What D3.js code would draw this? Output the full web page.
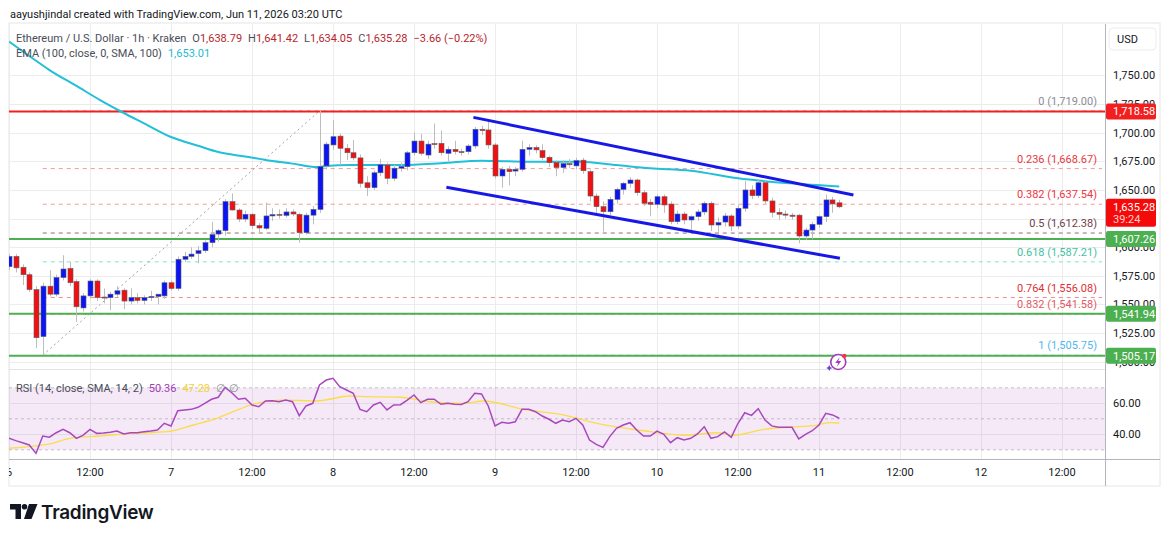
<!DOCTYPE html>
<html>
<head>
<meta charset="utf-8">
<script src="https://cdn.jsdelivr.net/npm/d3@7"></script>
<style>
  body { margin: 0; background: #fff; }
  svg { display: block; font-family: Roboto, "Liberation Sans", sans-serif; }
</style>
</head>
<body>
<svg id="chart" width="1170" height="539"></svg>
<script>
// ETH/USD 1h, Kraken - bars start Jun 6 2026 00:00 UTC, one per hour
const startTime = Date.UTC(2026, 5, 6, 0)
const opens = [1583,1592,1582.5,1576,1563,1522,1566,1559,1573.5,1581.5,1570,1547,1557.5,1570.5,1556.5,1556,1559,1562.5,1553,1556,1553.5,1556,1557,1557.5,1569,1564,1589.5,1592,1594.5,1597,1604,1611.5,1614.5,1639.8,1632.5,1624.6,1628.7,1618.8,1616.5,1627.3,1628.7,1627.8,1630.8,1628.7,1612.7,1628,1633,1671,1689.3,1697,1686.4,1682.5,1678,1656.3,1652,1665,1671.8,1660.2,1669,1670.3,1682.5,1692.7,1680.5,1690.5,1690.7,1682,1685.5,1683.5,1683.4,1688.4,1703,1702.4,1689.3,1662.2,1668,1666.5,1668,1685.5,1687,1684.4,1678.5,1674,1669.6,1673,1671,1676,1666,1644.7,1635.4,1631,1641.8,1650.5,1655.8,1658.7,1647.6,1639.3,1637.5,1644.1,1637.7,1622.3,1629,1623.8,1626.7,1630.8,1638.4,1619.4,1622,1627.3,1618.5,1634,1650,1645,1656.3,1640.4,1630.5,1629,1628,1628,1609.8,1615,1620,1626.7,1641.3,1638.79]
const highs = [1594,1594,1585,1578,1566,1569,1580,1576,1593,1587,1572,1560,1572,1572,1564,1561,1566,1564,1564,1560,1558,1562,1559,1571,1571,1592,1596,1600,1601,1606,1622,1616,1642,1647,1634,1632,1630,1621,1639,1634,1633,1634,1633,1630,1630,1636,1719,1692,1711,1699,1690,1693.6,1681,1662,1667,1677,1674,1672,1674,1684,1700,1699,1693,1708,1702,1688,1693,1686,1690,1705,1706,1711,1691,1670,1671,1670,1693,1690,1689,1690,1680,1676,1676,1677,1678,1678,1668,1647,1640,1644,1652,1657,1661,1660,1650,1642,1646,1646,1640,1632,1631,1628,1633,1640,1640,1626,1630,1629,1637,1658,1654,1659.3,1658,1643,1634,1632,1630,1629,1617,1622,1628,1646,1644,1641.42]
const lows = [1580,1578,1567,1561,1512,1505.75,1557,1557,1571,1566,1535,1544,1555,1553,1551,1545,1556,1546,1550,1551,1550,1553,1550,1555,1562,1562,1587,1590,1586,1595,1600,1605,1610,1632,1622,1622,1616,1612,1615,1623,1625,1626,1627,1604,1611,1620,1630,1668,1685,1672,1676,1676,1652,1644.7,1650,1662,1655,1658,1666,1667,1680,1680,1677,1686,1680,1675,1681,1680,1681,1686,1698,1686,1660,1652,1654,1662,1666,1680,1682,1676,1670,1662,1665,1669,1668,1664,1640,1630,1613.6,1628,1638,1646,1652,1645,1636,1627,1634,1630,1620,1620,1620,1615,1623,1628,1614,1610,1618,1614,1616,1631,1642,1643,1638,1626,1624,1625,1624,1603.4,1606,1607,1617,1622,1630,1634.05]
const closes = [1592,1582,1576,1563,1521,1566,1559,1573.5,1581,1569,1548,1557.5,1570.5,1556,1556,1559,1562,1553,1556,1553.5,1556,1557,1559,1569,1564,1589.5,1592,1594,1597,1604,1611,1614.5,1639.8,1632.5,1624.6,1628.7,1618.8,1616.8,1627.3,1628.5,1628,1630.8,1629,1612.7,1628,1633,1670.3,1690,1696.5,1686.4,1682.5,1678,1655.8,1652,1665,1672,1660.2,1669,1670.5,1682.5,1692.7,1682,1690,1689.7,1682.5,1685.5,1683.5,1683,1688.4,1703,1701.8,1689.3,1662.2,1668,1666,1668,1685.5,1687,1685,1678.2,1673.8,1669.6,1673,1672,1675.6,1666.8,1644.7,1635.4,1631,1641.8,1650.5,1655.8,1658.7,1647.6,1638.4,1637.5,1644.1,1636.9,1622.3,1629,1623.8,1626.7,1630.8,1638.4,1619.4,1621.5,1627.3,1618.5,1634,1650,1645,1656.3,1640.4,1630.5,1628.8,1628,1627,1609.8,1615,1620,1626.7,1641.3,1637.8,1635.28]

// EMA(100) at a few bar positions
const emaBars = [0,3,6,10,13.5,17,20,24,28,31,35,38,42,45.6,47,50.5,58,64,70,77,84.6,90,95,101,108,115.7,123]
const emaVals = [1779.5,1767,1754.7,1740.8,1728.5,1717.2,1708.2,1696.2,1688.6,1683.1,1679.2,1676.2,1673,1670,1671,1671.8,1671.8,1673.3,1675.6,1674.7,1674.7,1671.7,1668.9,1666.8,1660.2,1655.8,1653]

// RSI(14) one value per bar, and its SMA(14) read at a few bars
const rsiVals = [37.4,35.9,34.6,33.1,27.7,38.9,38.1,41,43.2,41,37.4,39.5,43.2,40.6,40.8,41.3,42.1,40.2,41,41,41.7,42.1,42.8,47.1,45.4,55.2,55.7,56.1,57.4,60,62.6,63.9,70.3,66.8,62.6,63.2,58.9,57.8,61.5,61.7,61,62.1,61,52,58.3,60,71.8,75,76.1,70.7,68.6,66.5,56.1,54.6,58.9,60.6,55.7,58.9,59.1,62.1,65.4,60.4,62.6,62.6,59.4,60,59.4,59.3,61,66.5,66,58.3,45.4,47.7,47.1,48.1,56.1,56.1,54.6,51.8,49.7,47.1,49.2,48.1,50.3,46,36.3,33.5,31.6,38.5,43.9,46,47.5,42.8,38.9,38.9,42.1,40,34.6,37.8,36.3,37.4,40.2,44.9,37.4,38.5,41.5,38.1,47.1,53.9,52.2,56.5,49.2,45.4,44.5,44.5,44.5,37,40,42.3,46,53.5,52.5,50.36]
const rsiMaBars = [0,4,6,9,13.5,18.4,23.4,27.3,30.8,33.2,36.2,40.6,45.6,50.5,53,58,62.4,67.3,70.3,76.2,82.1,87.1,94,100,104.9,107.3,111.8,116.7,119,121.6,123]
const rsiMaVals = [31,32.5,33.8,37.4,38.9,40.6,41.7,46,50.3,54.6,59.5,62.1,61.5,64.7,64.3,63.9,61,60,61.5,56.1,52.5,47.1,42.3,39.4,41,39.4,43.2,44.9,45.4,47.5,47.28]

// horizontal levels drawn on the chart
const redLevel = 1718.58
const greenLevels = [1607.26, 1541.94, 1505.17]
const fibRatios = ['0', '0.236', '0.382', '0.5', '0.618', '0.764', '0.832', '1']
const fibPrices = [1719.00, 1668.67, 1637.54, 1612.38, 1587.21, 1556.08, 1541.58, 1505.75]
const fibLabelColors = ['#8a8d96', '#e8393f', '#f0363f', '#6e3f4b', '#3fc2a3', '#e02f36', '#e35a5f', '#4fb8ef']
const fibLineColors = ['#b8b8b8', '#f49a9a', '#f49a9a', '#8f6c74', '#7fe3cc', '#f08c8c', '#f08c8c', '#9fd6f5']
// channel: [bar, price] end points
const channelUpper = [[68.8, 1713.4], [125.1, 1645.6]]
const channelLower = [[64.8, 1652.3], [123.1, 1590.3]]
// fib anchor: swing low bar 5 -> swing high bar 46
const fibFrom = [5, 1505.75]
const fibTo = [46, 1719.00]

// 1,625 sits under the last-price tag in the original, so it has no label
const priceGrid = [1500, 1525, 1550, 1575, 1600, 1625, 1650, 1675, 1700, 1725, 1750]
const priceTicks = [1500, 1525, 1550, 1575, 1600, 1650, 1675, 1700, 1725, 1750]
const rsiTicks = [40, 60]

const width = 1170
const height = 539
const pane = { left: 9, right: 1105, top: 24, bottom: 369 }
const rsiPane = { top: 370, bottom: 459 }

const svg = d3.select('#chart')
const hour = 3600 * 1000
const barTime = i => new Date(startTime + i * hour)

const x = d3.scaleUtc()
    .domain([new Date(Date.UTC(2026, 5, 7)), new Date(Date.UTC(2026, 5, 11))])
    .range([171, 819])
const y = d3.scaleLinear().domain([1500, 1750]).range([361.76, 75.43])
const yr = d3.scaleLinear().domain([40, 60]).range([434.3, 403.3])
const xb = i => x(barTime(i))

const candles = opens.map((o, i) => ({ i, o, h: highs[i], l: lows[i], c: closes[i] }))

svg.append('rect').attr('width', width).attr('height', height).attr('fill', '#fff')

const defs = svg.append('defs')
defs.append('clipPath').attr('id', 'mainClip')
    .append('rect').attr('x', pane.left).attr('y', pane.top)
    .attr('width', pane.right - pane.left).attr('height', pane.bottom - pane.top)
defs.append('clipPath').attr('id', 'rsiClip')
    .append('rect').attr('x', pane.left).attr('y', rsiPane.top)
    .attr('width', pane.right - pane.left).attr('height', rsiPane.bottom - rsiPane.top)
defs.append('clipPath').attr('id', 'axisClip')
    .append('rect').attr('x', pane.left).attr('y', 460)
    .attr('width', pane.right - pane.left).attr('height', 26)

// top caption
svg.append('text').attr('x', 10).attr('y', 18)
    .attr('font-size', 11).attr('fill', '#131722')
    .text('aayushjindal created with TradingView.com, Jun 11, 2026 03:20 UTC')

// frame
svg.append('rect').attr('x', pane.left).attr('y', pane.top - 1)
    .attr('width', 1160 - pane.left).attr('height', 486 - pane.top + 1)
    .attr('fill', 'none').attr('stroke', '#e6e6e6')

// grid
const timeTicks = d3.range(0, 14).map(k => new Date(Date.UTC(2026, 5, 6) + k * 12 * hour))
const grid = svg.append('g').attr('class', 'grid')
grid.selectAll('.vgrid').data(timeTicks).join('line')
    .attr('class', 'vgrid')
    .attr('x1', d => Math.round(x(d)) + 0.5).attr('x2', d => Math.round(x(d)) + 0.5)
    .attr('y1', pane.top).attr('y2', rsiPane.bottom)
    .attr('stroke', '#ececec')
grid.selectAll('.hgrid').data(priceGrid).join('line')
    .attr('class', 'hgrid')
    .attr('x1', pane.left).attr('x2', pane.right)
    .attr('y1', d => Math.round(y(d)) + 0.5).attr('y2', d => Math.round(y(d)) + 0.5)
    .attr('stroke', '#ececec')
grid.selectAll('.rgrid').data(rsiTicks).join('line')
    .attr('class', 'rgrid')
    .attr('x1', pane.left).attr('x2', pane.right)
    .attr('y1', d => Math.round(yr(d)) + 0.5).attr('y2', d => Math.round(yr(d)) + 0.5)
    .attr('stroke', '#ececec')

// pane separators and axis lines
svg.append('line').attr('x1', pane.left).attr('x2', pane.right)
    .attr('y1', pane.bottom + 0.5).attr('y2', pane.bottom + 0.5).attr('stroke', '#e3e3e3')
svg.append('line').attr('x1', pane.left).attr('x2', 1160)
    .attr('y1', 459.5).attr('y2', 459.5).attr('stroke', '#b2b5be')
svg.append('line').attr('x1', pane.right + 0.5).attr('x2', pane.right + 0.5)
    .attr('y1', pane.top).attr('y2', 486).attr('stroke', '#b2b5be')

const main = svg.append('g').attr('clip-path', 'url(#mainClip)')

// fib levels
const fib = main.append('g').attr('class', 'fib')
fib.selectAll('line').data(fibPrices).join('line')
    .attr('x1', xb(fibFrom[0])).attr('x2', pane.right - 3)
    .attr('y1', d => y(d)).attr('y2', d => y(d))
    .attr('stroke', (d, i) => fibLineColors[i])
    .attr('stroke-dasharray', '4,4')
fib.selectAll('text').data(fibPrices).join('text')
    .attr('x', 1097).attr('y', d => y(d) - 6)
    .attr('text-anchor', 'end').attr('font-size', 11)
    .attr('fill', (d, i) => fibLabelColors[i])
    .text((d, i) => `${fibRatios[i]} (${d3.format(',.2f')(d)})`)
fib.append('line')
    .attr('x1', xb(fibFrom[0])).attr('y1', y(fibFrom[1]))
    .attr('x2', xb(fibTo[0])).attr('y2', y(fibTo[1]))
    .attr('stroke', '#a0a3ab').attr('stroke-dasharray', '2,3')

// horizontal levels
main.append('line')
    .attr('x1', pane.left).attr('x2', pane.right)
    .attr('y1', y(redLevel)).attr('y2', y(redLevel))
    .attr('stroke', '#f21f1f').attr('stroke-width', 2)
main.selectAll('.green').data(greenLevels).join('line')
    .attr('class', 'green')
    .attr('x1', pane.left).attr('x2', pane.right)
    .attr('y1', d => y(d)).attr('y2', d => y(d))
    .attr('stroke', '#4caf50').attr('stroke-width', 2)

// EMA
const emaPts = emaBars.map((b, k) => [xb(b), y(emaVals[k])])
main.append('path')
    .attr('d', d3.line().curve(d3.curveMonotoneX)(emaPts))
    .attr('fill', 'none').attr('stroke', '#22bfd8').attr('stroke-width', 2)

// candles
const cg = main.append('g').attr('class', 'candles')
const bw = 5
cg.selectAll('.wick').data(candles).join('line')
    .attr('class', 'wick')
    .attr('x1', d => Math.round(xb(d.i)) + 0.5).attr('x2', d => Math.round(xb(d.i)) + 0.5)
    .attr('y1', d => y(d.h)).attr('y2', d => y(d.l))
    .attr('stroke', '#bdbdbd').attr('stroke-width', 1)
cg.selectAll('.body').data(candles).join('rect')
    .attr('class', 'body')
    .attr('x', d => Math.round(xb(d.i)) + 0.5 - bw / 2)
    .attr('width', bw)
    .attr('y', d => y(Math.max(d.o, d.c)))
    .attr('height', d => Math.max(1, Math.abs(y(d.o) - y(d.c))))
    .attr('fill', d => d.c >= d.o ? '#0a14f5' : '#f20f0f')
    .attr('stroke', '#5f6068').attr('stroke-width', 0.6)

// channel
main.selectAll('.channel').data([channelUpper, channelLower]).join('line')
    .attr('class', 'channel')
    .attr('x1', d => xb(d[0][0])).attr('y1', d => y(d[0][1]))
    .attr('x2', d => xb(d[1][0])).attr('y2', d => y(d[1][1]))
    .attr('stroke', '#1818e6').attr('stroke-width', 3)

// lightning badge
const badge = svg.append('g').attr('transform', `translate(${xb(123) - 1},362)`)
badge.append('circle').attr('r', 7.5).attr('fill', '#fff')
    .attr('stroke', '#a23bb8').attr('stroke-width', 1.6)
badge.append('path').attr('d', 'M1.5,-5 L-3,1 L0,1 L-1.5,5 L3,-1 L0,-1 Z').attr('fill', '#a23bb8')
badge.append('path').attr('d', 'M-9,3 L-8,5 L-6,6 L-8,7 L-9,9 L-10,7 L-12,6 L-10,5 Z').attr('fill', '#6a3fd0')
badge.append('circle').attr('cx', 6).attr('cy', -6).attr('r', 2.2).attr('fill', '#f23645')

// RSI pane
const rsi = svg.append('g').attr('clip-path', 'url(#rsiClip)')
rsi.append('rect')
    .attr('x', pane.left).attr('width', pane.right - pane.left)
    .attr('y', yr(70)).attr('height', yr(30) - yr(70))
    .attr('fill', '#9c27b0').attr('fill-opacity', 0.1)
rsi.selectAll('.band').data([70, 50, 30]).join('line')
    .attr('class', 'band')
    .attr('x1', pane.left).attr('x2', pane.right)
    .attr('y1', d => yr(d)).attr('y2', d => yr(d))
    .attr('stroke', '#9598a1').attr('stroke-opacity', 0.55).attr('stroke-dasharray', '3,3')
rsi.append('path')
    .attr('d', d3.line().curve(d3.curveMonotoneX)(rsiMaBars.map((b, k) => [xb(b), yr(rsiMaVals[k])])))
    .attr('fill', 'none').attr('stroke', '#fbdc4b').attr('stroke-width', 1.3)
rsi.append('path')
    .attr('d', d3.line()(rsiVals.map((v, i) => [xb(i), yr(v)])))
    .attr('fill', 'none').attr('stroke', '#a748bd').attr('stroke-width', 1.5)

// legends
const leg = svg.append('g').attr('font-size', 11)
const t1 = leg.append('text').attr('x', 16).attr('y', 42).attr('fill', '#4a4d57')
t1.append('tspan').text('Ethereum / U.S. Dollar · 1h · Kraken')
const ohlc = [['O', opens[123]], ['H', highs[123]], ['L', lows[123]], ['C', closes[123]]]
ohlc.forEach(([k, v]) => {
    t1.append('tspan').attr('dx', 6).attr('fill', '#4a4d57').text(k)
    t1.append('tspan').attr('fill', '#b5262d').text(d3.format(',.2f')(v))
})
t1.append('tspan').attr('dx', 6).attr('fill', '#b5262d').text('−3.66 (−0.22%)')
const t2 = leg.append('text').attr('x', 16).attr('y', 57).attr('fill', '#4a4d57')
t2.append('tspan').text('EMA (100, close, 0, SMA, 100)')
t2.append('tspan').attr('dx', 6).attr('fill', '#1fb8d3').text('1,653.01')
const t3 = leg.append('text').attr('x', 16).attr('y', 392).attr('fill', '#4a4d57')
t3.append('tspan').text('RSI (14, close, SMA, 14, 2)')
t3.append('tspan').attr('dx', 6).attr('fill', '#a23bb8').text('50.36')
t3.append('tspan').attr('dx', 6).attr('fill', '#f5d23a').text('47.28')
t3.append('tspan').attr('dx', 6).attr('fill', '#8a8d96').text('∅  ∅')

// price axis
const axisG = svg.append('g').attr('font-size', 11).attr('fill', '#131722')
axisG.selectAll('.ptick').data(priceTicks).join('text')
    .attr('class', 'ptick')
    .attr('x', 1113).attr('y', d => y(d) + 4)
    .text(d => d3.format(',.2f')(d))
axisG.selectAll('.rtick').data(rsiTicks).join('text')
    .attr('class', 'rtick')
    .attr('x', 1113).attr('y', d => yr(d) + 4)
    .text(d => d3.format('.2f')(d))

// USD box
svg.append('rect').attr('x', 1109).attr('y', 28).attr('width', 47).attr('height', 22)
    .attr('rx', 4).attr('fill', '#fff').attr('stroke', '#ececec')
svg.append('text').attr('x', 1117).attr('y', 43).attr('font-size', 11)
    .attr('fill', '#131722').text('USD')

// price labels on the axis
const tags = [
    { v: redLevel, fill: '#f21f1f' },
    ...greenLevels.map(v => ({ v, fill: '#4caf50' }))
]
const tagG = svg.append('g').selectAll('g').data(tags).join('g')
    .attr('transform', d => `translate(1106,${y(d.v)})`)
tagG.append('rect').attr('x', 0).attr('y', -8).attr('width', 50).attr('height', 16)
    .attr('rx', 2).attr('fill', d => d.fill)
tagG.append('text').attr('x', 7).attr('y', 4).attr('font-size', 11)
    .attr('fill', '#fff').text(d => d3.format(',.2f')(d.v))
const last = svg.append('g').attr('transform', `translate(1106,${y(closes[123])})`)
last.append('rect').attr('x', 0).attr('y', -8).attr('width', 50).attr('height', 28)
    .attr('rx', 2).attr('fill', '#f50a0a')
last.append('text').attr('x', 7).attr('y', 4).attr('font-size', 11).attr('fill', '#fff')
    .text(d3.format(',.2f')(closes[123]))
last.append('text').attr('x', 7).attr('y', 16).attr('font-size', 11).attr('fill', '#ffd0d0')
    .text('39:24')

// time axis
svg.append('g').attr('clip-path', 'url(#axisClip)')
    .selectAll('text').data(timeTicks).join('text')
    .attr('x', d => x(d)).attr('y', 476)
    .attr('text-anchor', 'middle').attr('font-size', 11).attr('fill', '#131722')
    .text(d => d.getUTCHours() === 12 ? '12:00' : d.getUTCDate())

// TradingView logo
const logo = svg.append('g').attr('fill', '#131722')
logo.append('path').attr('d', 'M10,504 H21 V519 H15.5 V509.5 H10 Z')
logo.append('circle').attr('cx', 24.5).attr('cy', 506.8).attr('r', 2.8)
logo.append('path').attr('d', 'M29,504 H37.5 L31.5,519 H24 Z')
logo.append('text').attr('x', 41).attr('y', 519)
    .attr('font-family', 'Inter, Roboto, sans-serif').attr('font-weight', 600)
    .attr('font-size', 19).attr('letter-spacing', -0.3)
    .text('TradingView')
</script>
</body>
</html>
